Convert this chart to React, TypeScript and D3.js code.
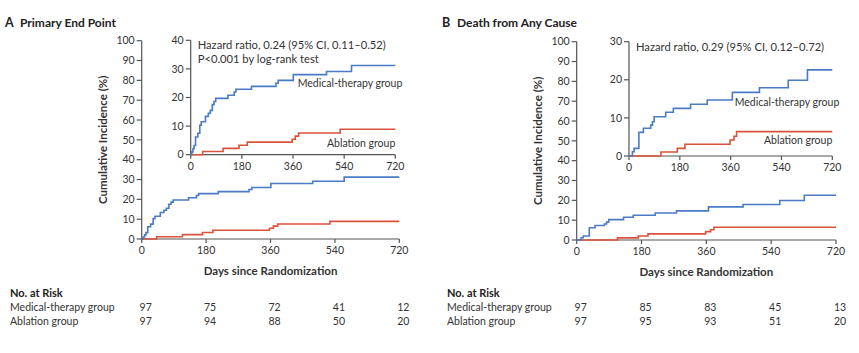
import * as d3 from 'd3'

// tick values shared by all panels
const dayTicks = [0, 180, 360, 540, 720]
const mainPctTicks = [0, 10, 20, 30, 40, 50, 60, 70, 80, 90, 100]
const insetATicks = [0, 10, 20, 30, 40]
const insetBTicks = [0, 10, 20, 30]

// Panel A - primary end point (step events: day, cumulative %)
const medADays = [0, 4, 8, 12, 17, 25, 32, 37, 52, 62, 69, 76, 82, 88, 131, 153, 159, 214, 300, 308, 361, 478, 566]
const medAPct = [0, 1, 2.1, 3.2, 6.2, 7.5, 10.3, 11.5, 13.4, 14.5, 15.5, 17.5, 18.6, 19.7, 20.8, 21.9, 22.9, 23.9, 25, 26, 28, 29.1, 31.2]
const ablADays = [0, 42, 114, 170, 199, 357, 368, 380, 526]
const ablAPct = [0, 1.1, 2.2, 3.3, 4.4, 5.4, 6.5, 7.6, 8.9]

// Panel B - death from any cause
const medBDays = [0, 12, 18, 35, 51, 77, 83, 89, 130, 157, 218, 277, 366, 462, 564, 632]
const medBPct = [0, 1.1, 2.0, 6.2, 7.3, 8.1, 9.0, 10.3, 11.5, 12.5, 13.6, 14.7, 16.7, 17.9, 19.9, 22.6]
const ablBDays = [0, 113, 171, 198, 358, 372, 381]
const ablBPct = [0, 1.05, 2.0, 3.1, 4.2, 5.2, 6.4]

// numbers at risk
const riskMedA = [97, 75, 72, 41, 12]
const riskAblA = [97, 94, 88, 50, 20]
const riskMedB = [97, 85, 83, 45, 13]
const riskAblB = [97, 95, 93, 51, 20]

const BLUE = '#4a7bc4'
const RED = '#d9533a'
const AXIS = '#555'
const TEXT = '#333'
const FONT = 'Lato, "Open Sans", sans-serif'

function toSteps(days: number[], pct: number[]) {
  const pts = days.map((d, i) => [d, pct[i]] as [number, number])
  pts.push([720, pct[pct.length - 1]])
  return pts
}

function Axes({ x, y, yTicks, fs, labelGap }: any) {
  const [x0, x1] = x.range()
  const [y0, y1] = y.range()
  return (
    <g fill={TEXT} fontSize={fs} fontFamily={FONT}>
      <line x1={x0} x2={x0} y1={y0} y2={y1} stroke={AXIS} strokeWidth={1.2} />
      <line x1={x0} x2={x1} y1={y0} y2={y0} stroke={AXIS} strokeWidth={1.2} />
      {yTicks.map((t: number) => (
        <g key={'y' + t}>
          <line x1={x0 - 5} x2={x0} y1={y(t)} y2={y(t)} stroke={AXIS} strokeWidth={1.2} />
          <text x={x0 - 7} y={y(t)} dy="0.35em" textAnchor="end">{t}</text>
        </g>
      ))}
      {dayTicks.map((t) => (
        <g key={'x' + t}>
          <line x1={x(t)} x2={x(t)} y1={y0} y2={y0 + 4} stroke={AXIS} strokeWidth={1.2} />
          <text x={x(t)} y={y0 + labelGap} textAnchor="middle">{t}</text>
        </g>
      ))}
    </g>
  )
}

function Curves({ x, y, med, abl }: any) {
  const line = d3.line<[number, number]>()
    .x((d) => x(d[0]))
    .y((d) => y(d[1]))
    .curve(d3.curveStepAfter)
  return (
    <g fill="none" strokeWidth={1.6}>
      <path d={line(abl) || ''} stroke={RED} />
      <path d={line(med) || ''} stroke={BLUE} />
    </g>
  )
}

function Panel({ letter, title, ox, main, inset, insetMax, insetTicks, hazard, med, abl, riskMed, riskAbl, medLabelY, ablLabelY }: any) {
  const x = d3.scaleLinear().domain([0, 720]).range(main.x)
  const y = d3.scaleLinear().domain([0, 100]).range(main.y)
  const xi = d3.scaleLinear().domain([0, 720]).range(inset.x)
  const yi = d3.scaleLinear().domain([0, insetMax]).range(inset.y)
  const midY = (main.y[0] + main.y[1]) / 2
  return (
    <g>
      <text x={ox} y={27} fontFamily={FONT} fontWeight="bold" fontSize={12.5} fill="#222">{letter}</text>
      <text x={ox + 15} y={27} fontFamily={FONT} fontWeight="bold" fontSize={12} fill="#222">{title}</text>

      <Axes x={x} y={y} yTicks={mainPctTicks} fs={10.5} labelGap={15} />
      <Curves x={x} y={y} med={med} abl={abl} />
      <text transform={`translate(${main.x[0] - 35},${midY}) rotate(-90)`} textAnchor="middle"
        fontFamily={FONT} fontWeight="bold" fontSize={11.5} fill={TEXT}>Cumulative Incidence (%)</text>
      <text x={(main.x[0] + main.x[1]) / 2} y={main.y[0] + 36} textAnchor="middle"
        fontFamily={FONT} fontWeight="bold" fontSize={11.5} fill={TEXT}>Days since Randomization</text>

      <Axes x={xi} y={yi} yTicks={insetTicks} fs={10.5} labelGap={15} />
      <Curves x={xi} y={yi} med={med} abl={abl} />
      {hazard.map((h: string, i: number) => (
        <text key={h} x={inset.x[0] + 7} y={inset.y[1] + 9 + i * 14} fontFamily={FONT} fontSize={11.2} fill={TEXT}>{h}</text>
      ))}
      <text x={inset.x[1] + 7} y={medLabelY} textAnchor="end" fontFamily={FONT} fontSize={10.5} fill={TEXT}>Medical-therapy group</text>
      <text x={inset.x[1]} y={ablLabelY} textAnchor="end" fontFamily={FONT} fontSize={10.5} fill={TEXT}>Ablation group</text>

      <g fontFamily={FONT} fontSize={10.5} fill={TEXT}>
        <text x={ox + 5} y={297} fontWeight="bold" fontSize={11} fill="#222">No. at Risk</text>
        <text x={ox + 5} y={311}>Medical-therapy group</text>
        <text x={ox + 5} y={325}>Ablation group</text>
        {dayTicks.map((t, i) => (
          <g key={'r' + t}>
            <text x={x(t) + 4} y={311} textAnchor="middle">{riskMed[i]}</text>
            <text x={x(t) + 4} y={325} textAnchor="middle">{riskAbl[i]}</text>
          </g>
        ))}
      </g>
    </g>
  )
}

export default function App() {
  return (
    <svg width={859} height={353} style={{ position: 'absolute', left: 0, top: 0, background: '#fff' }}>
      <Panel letter="A" title="Primary End Point" ox={5}
        main={{ x: [141.7, 399.3], y: [239, 40.7] }}
        inset={{ x: [190.7, 395.3], y: [154.7, 40.3] }}
        insetMax={40} insetTicks={insetATicks}
        hazard={['Hazard ratio, 0.24 (95% CI, 0.11\u20130.52)', 'P<0.001 by log-rank test']}
        med={toSteps(medADays, medAPct)} abl={toSteps(ablADays, ablAPct)}
        riskMed={riskMedA} riskAbl={riskAblA}
        medLabelY={87} ablLabelY={147} />
      <Panel letter="B" title="Death from Any Cause" ox={442}
        main={{ x: [576.7, 836], y: [240, 41.7] }}
        inset={{ x: [629, 832.3], y: [156, 41.7] }}
        insetMax={30} insetTicks={insetBTicks}
        hazard={['Hazard ratio, 0.29 (95% CI, 0.12\u20130.72)']}
        med={toSteps(medBDays, medBPct)} abl={toSteps(ablBDays, ablBPct)}
        riskMed={riskMedB} riskAbl={riskAblB}
        medLabelY={106} ablLabelY={144} />
    </svg>
  )
}
